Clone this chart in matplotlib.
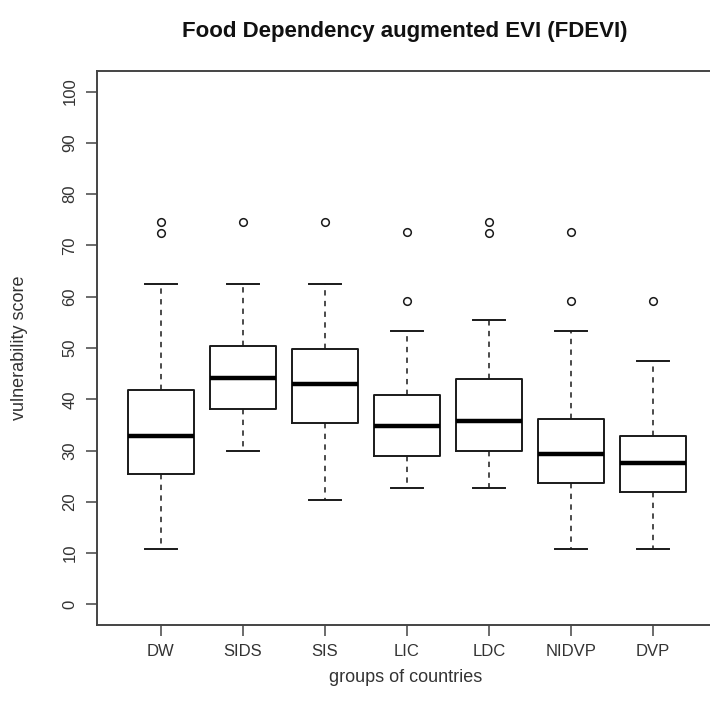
import matplotlib
matplotlib.use("Agg")
import matplotlib.pyplot as plt

plt.rcParams['font.family'] = ['Liberation Sans', 'DejaVu Sans']

categories = ["DW", "SIDS", "SIS", "LIC", "LDC", "NIDVP", "DVP"]
whisker_low = [10.9, 29.9, 20.3, 22.7, 22.7, 10.9, 10.9]
q1 = [25.4, 38.1, 35.3, 29.0, 29.9, 23.6, 22.0]
medians = [32.9, 44.1, 43.0, 34.8, 35.8, 29.3, 27.5]
q3 = [41.9, 50.4, 49.9, 40.8, 44.0, 36.1, 32.9]
whisker_high = [62.4, 62.4, 62.4, 53.3, 55.4, 53.3, 47.4]
outliers = [[72.5, 74.5], [74.5], [74.5], [59.2, 72.6], [72.5, 74.5], [59.2, 72.6], [59.2]]
y_ticks = [0, 10, 20, 30, 40, 50, 60, 70, 80, 90, 100]

title = "Food Dependency augmented EVI (FDEVI)"
xlabel = "groups of countries"
ylabel = "vulnerability score"

W, H = 710, 716
fig = plt.figure(figsize=(W / 100, H / 100), dpi=100)
left, right, bottom, top = 97, 717, 625, 71
ax = fig.add_axes([left / W, 1 - bottom / H, (right - left) / W, (bottom - top) / H])

stats = []
for i, c in enumerate(categories):
    stats.append(dict(label=c, whislo=whisker_low[i], q1=q1[i], med=medians[i],
                      q3=q3[i], whishi=whisker_high[i], fliers=outliers[i]))

line_col = '#1a1a1a'
ax.bxp(stats, positions=range(1, len(categories) + 1), widths=0.8,
       boxprops=dict(color=line_col, linewidth=1.4),
       medianprops=dict(color='black', linewidth=3.2, solid_capstyle='butt'),
       whiskerprops=dict(color=line_col, linewidth=1.1, linestyle=(0, (3.5, 3.5))),
       capprops=dict(color=line_col, linewidth=1.4),
       capwidths=0.4,
       flierprops=dict(marker='o', markerfacecolor='none', markeredgecolor=line_col,
                       markersize=5.5, markeredgewidth=1.1, linestyle='none'))

ax.set_xlim(0.22, 7.78)
ax.set_ylim(-4, 104)
ax.set_yticks(y_ticks)
ax.set_yticklabels([str(t) for t in y_ticks], rotation=90, va='center')
ax.set_xticks(range(1, len(categories) + 1))
ax.set_xticklabels(categories)

for s in ax.spines.values():
    s.set_color('#444444')
    s.set_linewidth(1.4)
ax.tick_params(axis='both', direction='out', length=8, width=1.1, color='#444444',
               labelsize=12, labelcolor='#333333')
ax.tick_params(axis='x', pad=6)
ax.tick_params(axis='y', pad=6)

fig.text(405 / W, 1 - 31 / H, title, ha='center', va='center', fontsize=16,
         fontweight='bold', color='#111111')
fig.text(406 / W, 1 - 677 / H, xlabel, ha='center', va='center', fontsize=13,
         color='#333333')
fig.text(20 / W, 1 - 348 / H, ylabel, ha='center', va='center', fontsize=13,
         rotation=90, color='#333333')

fig.savefig("out.png", dpi=100)
